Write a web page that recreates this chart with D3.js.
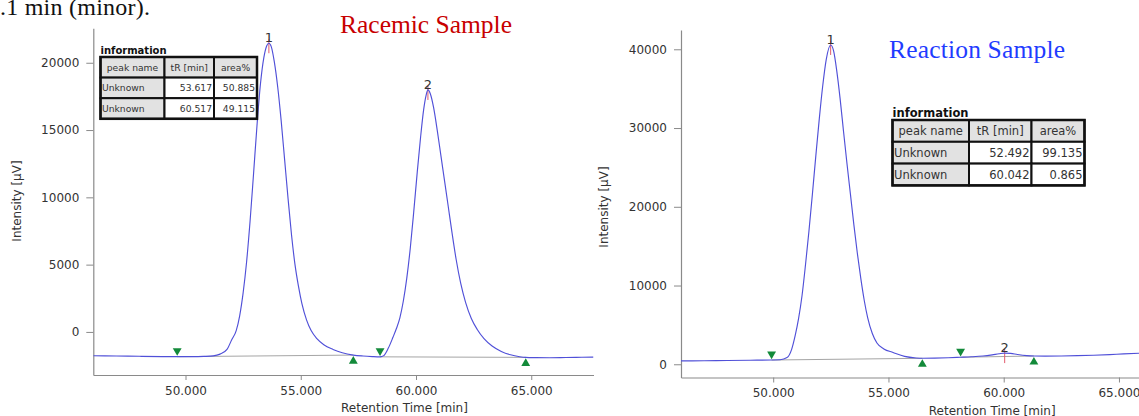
<!DOCTYPE html>
<html>
<head>
<meta charset="utf-8">
<script src="https://cdn.jsdelivr.net/npm/d3@7"></script>
<style>
  html, body { margin: 0; padding: 0; background: #ffffff; }
  svg { display: block; }
</style>
</head>
<body>
<script>
// ---- Racemic sample trace (retention time in min, intensity in µV) ----
const racemicTime = [46.0, 47.0, 48.0, 49.0, 49.64, 50.3, 50.8, 51.2, 51.5, 51.8, 52.0, 52.2, 52.35, 52.5, 52.65, 52.8, 52.95, 53.1, 53.25, 53.4, 53.52, 53.617, 53.72, 53.85, 54.0, 54.15, 54.3, 54.45, 54.6, 54.75, 54.9, 55.05, 55.25, 55.45, 55.7, 56.0, 56.4, 56.8, 57.28, 57.7, 58.1, 58.44, 58.6, 58.8, 59.0, 59.15, 59.3, 59.45, 59.6, 59.75, 59.9, 60.05, 60.2, 60.33, 60.44, 60.517, 60.62, 60.76, 60.92, 61.08, 61.24, 61.4, 61.56, 61.74, 61.94, 62.15, 62.4, 62.65, 62.95, 63.3, 63.7, 64.1, 64.5, 64.76, 65.2, 65.8, 66.5, 67.2, 67.7];
const racemicSignal = [-1770, -1790, -1810, -1830, -1840, -1840, -1820, -1780, -1650, -1300, -600, 100, 1200, 2900, 5200, 8200, 11700, 15300, 18400, 20400, 21250, 21450, 21200, 20100, 18200, 15700, 12800, 9900, 7200, 5000, 3400, 2100, 900, 100, -500, -950, -1300, -1550, -1720, -1790, -1830, -1850, -1760, -1200, -400, 250, 1050, 2300, 4000, 6200, 8900, 11800, 14500, 16500, 17600, 17980, 17700, 16700, 15000, 13100, 11200, 9300, 7400, 5400, 3600, 2200, 1000, 200, -500, -1050, -1450, -1700, -1840, -1890, -1910, -1920, -1900, -1880, -1870];

// ---- Reaction sample trace ----
const reactionTime = [46.0, 47.0, 48.0, 49.0, 49.93, 50.3, 50.6, 50.8, 50.95, 51.1, 51.25, 51.4, 51.55, 51.7, 51.85, 52.0, 52.15, 52.3, 52.492, 52.62, 52.76, 52.9, 53.05, 53.2, 53.35, 53.5, 53.65, 53.8, 53.95, 54.1, 54.3, 54.5, 54.8, 55.2, 55.7, 56.2, 56.47, 57.0, 57.6, 58.13, 58.6, 59.1, 59.5, 59.8, 60.042, 60.3, 60.6, 61.0, 61.31, 61.8, 62.5, 63.2, 63.9, 64.6, 65.2, 65.9, 66.6, 67.7];
const reactionSignal = [430, 450, 480, 510, 540, 570, 850, 1900, 3600, 5800, 8700, 12600, 16900, 21600, 26500, 31200, 35400, 38700, 40550, 39800, 37200, 33800, 29600, 25500, 21600, 17700, 14100, 10900, 8100, 5900, 3900, 2700, 1950, 1500, 1000, 800, 760, 780, 830, 890, 950, 1050, 1200, 1340, 1420, 1380, 1240, 1100, 1050, 1030, 1050, 1100, 1150, 1230, 1320, 1400, 1450, 1500];

// ---- Peak integration results ----
const racemicPeakNames = ["Unknown", "Unknown"];
const racemicPeakTR = [53.617, 60.517];
const racemicPeakArea = [50.885, 49.115];
const racemicPeakStart = [49.64, 58.44];
const racemicPeakEnd = [57.28, 64.76];

const reactionPeakNames = ["Unknown", "Unknown"];
const reactionPeakTR = [52.492, 60.042];
const reactionPeakArea = [99.135, 0.865];
const reactionPeakStart = [49.93, 58.13];
const reactionPeakEnd = [56.47, 61.31];

// ---- Axis ticks and labels ----
const timeTicks = [50, 55, 60, 65];
const racemicIntensityTicks = [0, 5000, 10000, 15000, 20000];
const reactionIntensityTicks = [0, 10000, 20000, 30000, 40000];
const tableHeaders = ["peak name", "tR [min]", "area%"];
const xAxisTitle = "Retention Time [min]";
const yAxisTitle = "Intensity [μV]";

const W = 1139, H = 416;
const svg = d3.select("body").append("svg")
  .attr("width", W).attr("height", H)
  .attr("viewBox", `0 0 ${W} ${H}`);

svg.append("rect").attr("width", W).attr("height", H).attr("fill", "#ffffff");

const AXIS_FONT = "'DejaVu Sans', Verdana, sans-serif";
const SERIF = "'Liberation Serif', 'DejaVu Serif', serif";

// caption fragment running in from the text above the figure
svg.append("text")
  .attr("x", 0).attr("y", 15)
  .attr("font-family", SERIF).attr("font-size", 24)
  .attr("fill", "#111")
  .attr("textLength", 150)
  .text(".1 min (minor).");

function drawPanel(p) {
  const g = svg.append("g");
  const x = d3.scaleLinear().domain(p.xDomain).range(p.xRange);
  const y = d3.scaleLinear().domain(p.yDomain).range(p.yRange);
  const pts = p.time.map((t, i) => [t, p.signal[i]]);
  const valueAt = t => {
    const i = d3.bisector(d => d[0]).left(pts, t);
    if (i <= 0) return pts[0][1];
    if (i >= pts.length) return pts[pts.length - 1][1];
    const a = pts[i - 1], b = pts[i];
    return a[1] + (b[1] - a[1]) * (t - a[0]) / (b[0] - a[0]);
  };

  // axes
  const yAxis = d3.axisLeft(y).tickValues(p.yTicks).tickSize(7).tickPadding(7).tickSizeOuter(0)
    .tickFormat(d3.format("d"));
  const xAxis = d3.axisBottom(x).tickValues(timeTicks).tickSize(5).tickPadding(6).tickSizeOuter(0)
    .tickFormat(d3.format(".3f"));
  const ya = g.append("g").attr("transform", `translate(${p.xRange[0]},0)`).call(yAxis);
  const xa = g.append("g").attr("transform", `translate(0,${p.yRange[0]})`).call(xAxis);
  [ya, xa].forEach(a => {
    a.select(".domain").attr("stroke", "#8a8a8a").attr("stroke-width", 1.2);
    a.selectAll(".tick line").attr("stroke", "#8a8a8a");
    a.selectAll(".tick text").attr("fill", "#333").attr("font-family", AXIS_FONT).attr("font-size", 12);
  });

  g.append("text")
    .attr("x", x(p.xTitleAt)).attr("y", p.yRange[0] + 37)
    .attr("text-anchor", "middle")
    .attr("font-family", AXIS_FONT).attr("font-size", 12).attr("fill", "#333")
    .text(xAxisTitle);
  g.append("text")
    .attr("transform", `translate(${p.yTitleX},${p.yTitleY}) rotate(-90)`)
    .attr("text-anchor", "middle").attr("dy", "0.35em")
    .attr("font-family", AXIS_FONT).attr("font-size", 12).attr("fill", "#333")
    .text(yAxisTitle);

  // integration baselines
  p.starts.forEach((s, i) => {
    const e = p.ends[i];
    g.append("line")
      .attr("x1", x(s)).attr("y1", y(valueAt(s)))
      .attr("x2", x(e)).attr("y2", y(valueAt(e)))
      .attr("stroke", "#a5a5a5").attr("stroke-width", 1);
  });

  // apex markers
  p.tR.forEach(t => {
    const yy = y(valueAt(t));
    g.append("line")
      .attr("x1", x(t)).attr("x2", x(t))
      .attr("y1", yy - 4).attr("y2", yy + 10)
      .attr("stroke", "#e25a6c").attr("stroke-width", 1);
  });

  // chromatogram trace
  const clipId = "clip" + p.id;
  svg.append("clipPath").attr("id", clipId).append("rect")
    .attr("x", p.xRange[0]).attr("y", 0)
    .attr("width", p.xRange[1] - p.xRange[0]).attr("height", p.yRange[0]);
  g.append("path")
    .datum(pts)
    .attr("clip-path", `url(#${clipId})`)
    .attr("fill", "none")
    .attr("stroke", "#5050d8").attr("stroke-width", 1.15)
    .attr("d", d3.line().x(d => x(d[0])).y(d => y(d[1])).curve(d3.curveMonotoneX));

  // peak start / end markers
  const tri = d3.symbol().type(d3.symbolTriangle).size(34);
  p.starts.forEach(s => {
    g.append("path").attr("d", tri())
      .attr("transform", `translate(${x(s)},${y(valueAt(s)) - 6}) rotate(180)`)
      .attr("fill", "#138a3a");
  });
  p.ends.forEach(e => {
    g.append("path").attr("d", tri())
      .attr("transform", `translate(${x(e)},${y(valueAt(e)) + 6})`)
      .attr("fill", "#138a3a");
  });

  // peak numbers
  p.tR.forEach((t, i) => {
    g.append("text")
      .attr("x", x(t)).attr("y", y(valueAt(t)) - 1)
      .attr("text-anchor", "middle")
      .attr("font-family", AXIS_FONT).attr("font-size", 13).attr("fill", "#333")
      .text(i + 1);
  });

  // information table
  const tb = p.table;
  const tg = g.append("g").attr("font-family", AXIS_FONT).attr("fill", "#333");
  tg.append("text")
    .attr("x", tb.x).attr("y", tb.y - 3.5)
    .attr("font-size", tb.titleSize).attr("font-weight", "bold").attr("fill", "#111")
    .text("information");
  const colX = [tb.x];
  tb.cols.forEach(w => colX.push(colX[colX.length - 1] + w));
  const rows = [tableHeaders].concat(p.names.map((n, i) => [
    n, d3.format(".3f")(p.tR[i]), d3.format(".3f")(p.area[i])
  ]));
  rows.forEach((row, r) => {
    const y0 = tb.y + r * tb.rowH;
    row.forEach((cell, c) => {
      const grey = r === 0 || c === 0;
      tg.append("rect")
        .attr("x", colX[c]).attr("y", y0)
        .attr("width", tb.cols[c]).attr("height", tb.rowH)
        .attr("fill", grey ? "#e2e2e2" : "#ffffff")
        .attr("stroke", "#111").attr("stroke-width", 2);
      let tx, anchor;
      if (r === 0) { tx = colX[c] + tb.cols[c] / 2; anchor = "middle"; }
      else if (c === 0) { tx = colX[c] + 1.5; anchor = "start"; }
      else { tx = colX[c + 1] - 2; anchor = "end"; }
      tg.append("text")
        .attr("x", tx).attr("y", y0 + tb.rowH / 2)
        .attr("dy", "0.36em")
        .attr("text-anchor", anchor)
        .attr("font-size", tb.fontSize)
        .text(cell);
    });
  });
  tg.append("rect")
    .attr("x", colX[0]).attr("y", tb.y)
    .attr("width", colX[colX.length - 1] - colX[0]).attr("height", rows.length * tb.rowH)
    .attr("fill", "none").attr("stroke", "#111").attr("stroke-width", 2.5);

  // sample title
  g.append("text")
    .attr("x", p.title.x).attr("y", p.title.y)
    .attr("font-family", SERIF).attr("font-size", 25.5)
    .attr("fill", p.title.color)
    .attr("textLength", p.title.width)
    .text(p.title.text);
}

drawPanel({
  id: "racemic",
  time: racemicTime, signal: racemicSignal,
  xDomain: [46, 67.7], xRange: [93.3, 593.5],
  yDomain: [-3200, 22560], yRange: [375, 28.3],
  yTicks: racemicIntensityTicks,
  starts: racemicPeakStart, ends: racemicPeakEnd,
  tR: racemicPeakTR, area: racemicPeakArea, names: racemicPeakNames,
  xTitleAt: 59.5, yTitleX: 17, yTitleY: 201,
  table: { x: 100.5, y: 57, cols: [64, 49.5, 43], rowH: 20.6, fontSize: 9.2, titleSize: 10 },
  title: { text: "Racemic Sample", x: 340, y: 33, width: 172, color: "#c80000" }
});

drawPanel({
  id: "reaction",
  time: reactionTime, signal: reactionSignal,
  xDomain: [46, 67.7], xRange: [681, 1181.2],
  yDomain: [-1680, 42450], yRange: [377.5, 30],
  yTicks: reactionIntensityTicks,
  starts: reactionPeakStart, ends: reactionPeakEnd,
  tR: reactionPeakTR, area: reactionPeakArea, names: reactionPeakNames,
  xTitleAt: 59.5, yTitleX: 604, yTitleY: 207,
  table: { x: 892.5, y: 120, cols: [76.5, 62.5, 53], rowH: 21.8, fontSize: 11.5, titleSize: 11.5 },
  title: { text: "Reaction Sample", x: 889, y: 58, width: 176, color: "#1f3cff" }
});
</script>
</body>
</html>
